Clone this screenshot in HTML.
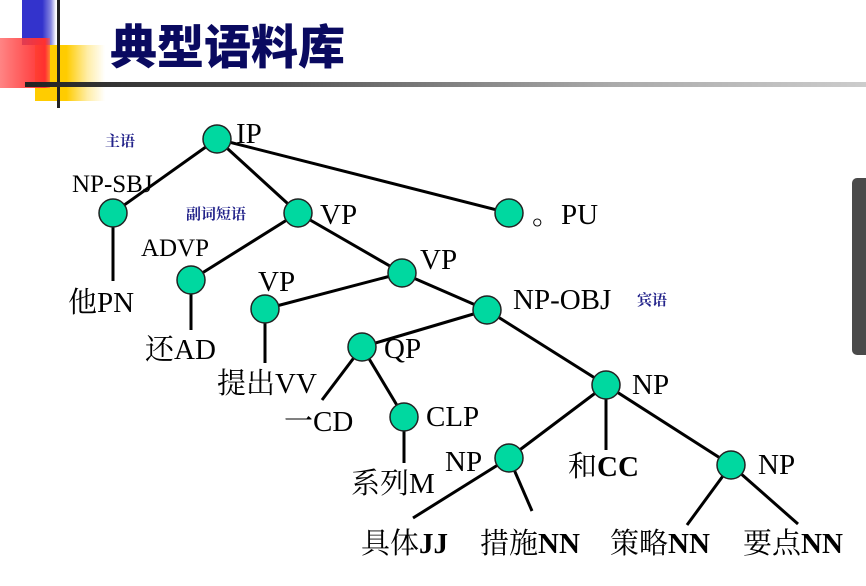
<!DOCTYPE html>
<html><head><meta charset="utf-8"><style>
html,body{margin:0;padding:0;background:#fff;width:866px;height:586px;overflow:hidden;position:relative}
</style></head><body>
<div style="position:absolute;left:22px;top:0;width:34px;height:45px;background:linear-gradient(90deg,#3333cc 60%,#8888e0 85%,rgba(255,255,255,0))"></div>
<div style="position:absolute;left:35px;top:45px;width:70px;height:56px;background:linear-gradient(90deg,#ffcc00 45%,rgba(255,220,80,0.5) 75%,rgba(255,255,255,0))"></div>
<div style="position:absolute;left:0;top:38px;width:50px;height:50px;background:linear-gradient(90deg,rgba(255,80,80,0.7),#ff3030 90%,rgba(255,80,80,0.6))"></div>
<div style="position:absolute;left:57px;top:0;width:3px;height:108px;background:#222"></div>
<div style="position:absolute;left:25px;top:82px;width:841px;height:5px;background:linear-gradient(90deg,#222 0%,#555 30%,#aaa 70%,#ccc 100%)"></div>
<div style="position:absolute;left:110px;top:14px;font:900 47px 'Noto Sans CJK SC',sans-serif;color:#0a0a60;line-height:60px">典型语料库</div>
<div style="position:absolute;left:852px;top:178px;width:14px;height:177px;background:#4a4a4a;border-radius:5px 0 0 5px"></div>
<svg width="866" height="586" style="position:absolute;left:0;top:0" font-family="'Liberation Serif','Noto Serif CJK SC',serif" font-size="29">
<g stroke="#000" stroke-width="3" fill="none">
<line x1="217" y1="139" x2="113" y2="213"/><line x1="217" y1="139" x2="298" y2="213"/><line x1="217" y1="139" x2="509" y2="213"/>
<line x1="113" y1="213" x2="113" y2="281"/>
<line x1="298" y1="213" x2="191" y2="280"/><line x1="298" y1="213" x2="402" y2="273"/>
<line x1="191" y1="280" x2="191" y2="330"/>
<line x1="402" y1="273" x2="265" y2="309"/><line x1="402" y1="273" x2="487" y2="310"/>
<line x1="265" y1="309" x2="265" y2="363"/>
<line x1="487" y1="310" x2="362" y2="347"/><line x1="487" y1="310" x2="606" y2="385"/>
<line x1="362" y1="347" x2="322" y2="400"/><line x1="362" y1="347" x2="404" y2="417"/>
<line x1="404" y1="417" x2="404" y2="463"/>
<line x1="606" y1="385" x2="509" y2="458"/><line x1="606" y1="385" x2="606" y2="450"/><line x1="606" y1="385" x2="731" y2="465"/>
<line x1="509" y1="458" x2="413" y2="518"/><line x1="509" y1="458" x2="532" y2="511"/>
<line x1="731" y1="465" x2="687" y2="525"/><line x1="731" y1="465" x2="798" y2="524"/>
</g>
<g fill="#00d8a0" stroke="#222" stroke-width="1.5">
<circle cx="217" cy="139" r="14"/><circle cx="113" cy="213" r="14"/><circle cx="298" cy="213" r="14"/><circle cx="509" cy="213" r="14"/>
<circle cx="191" cy="280" r="14"/><circle cx="402" cy="273" r="14"/><circle cx="265" cy="309" r="14"/><circle cx="487" cy="310" r="14"/>
<circle cx="362" cy="347" r="14"/><circle cx="606" cy="385" r="14"/><circle cx="404" cy="417" r="14"/><circle cx="509" cy="458" r="14"/><circle cx="731" cy="465" r="14"/>
</g>
<g fill="#000">
<text x="236" y="143">IP</text>
<text x="72" y="192" font-size="25">NP-SBJ</text>
<text x="320" y="224">VP</text>
<text x="532" y="224">。PU</text>
<text x="141" y="256" font-size="25">ADVP</text>
<text x="420" y="269">VP</text>
<text x="258" y="291">VP</text>
<text x="513" y="309">NP-OBJ</text>
<text x="384" y="358">QP</text>
<text x="632" y="394">NP</text>
<text x="426" y="426">CLP</text>
<text x="445" y="471">NP</text>
<text x="758" y="474">NP</text>
<text x="68" y="312">他PN</text>
<text x="145" y="359">还AD</text>
<text x="217" y="393">提出VV</text>
<text x="284" y="431">一CD</text>
<text x="351" y="493">系列M</text>
<text x="568" y="476">和<tspan font-weight="bold">CC</tspan></text>
<text x="361" y="553">具体<tspan font-weight="bold">JJ</tspan></text>
<text x="480" y="553">措施<tspan font-weight="bold">NN</tspan></text>
<text x="610" y="553">策略<tspan font-weight="bold">NN</tspan></text>
<text x="743" y="553">要点<tspan font-weight="bold">NN</tspan></text>
</g>
<g fill="#22228a" font-size="15" font-weight="bold">
<text x="105" y="146">主语</text>
<text x="186" y="219">副词短语</text>
<text x="637" y="305">宾语</text>
</g>
</svg>
</body></html>
